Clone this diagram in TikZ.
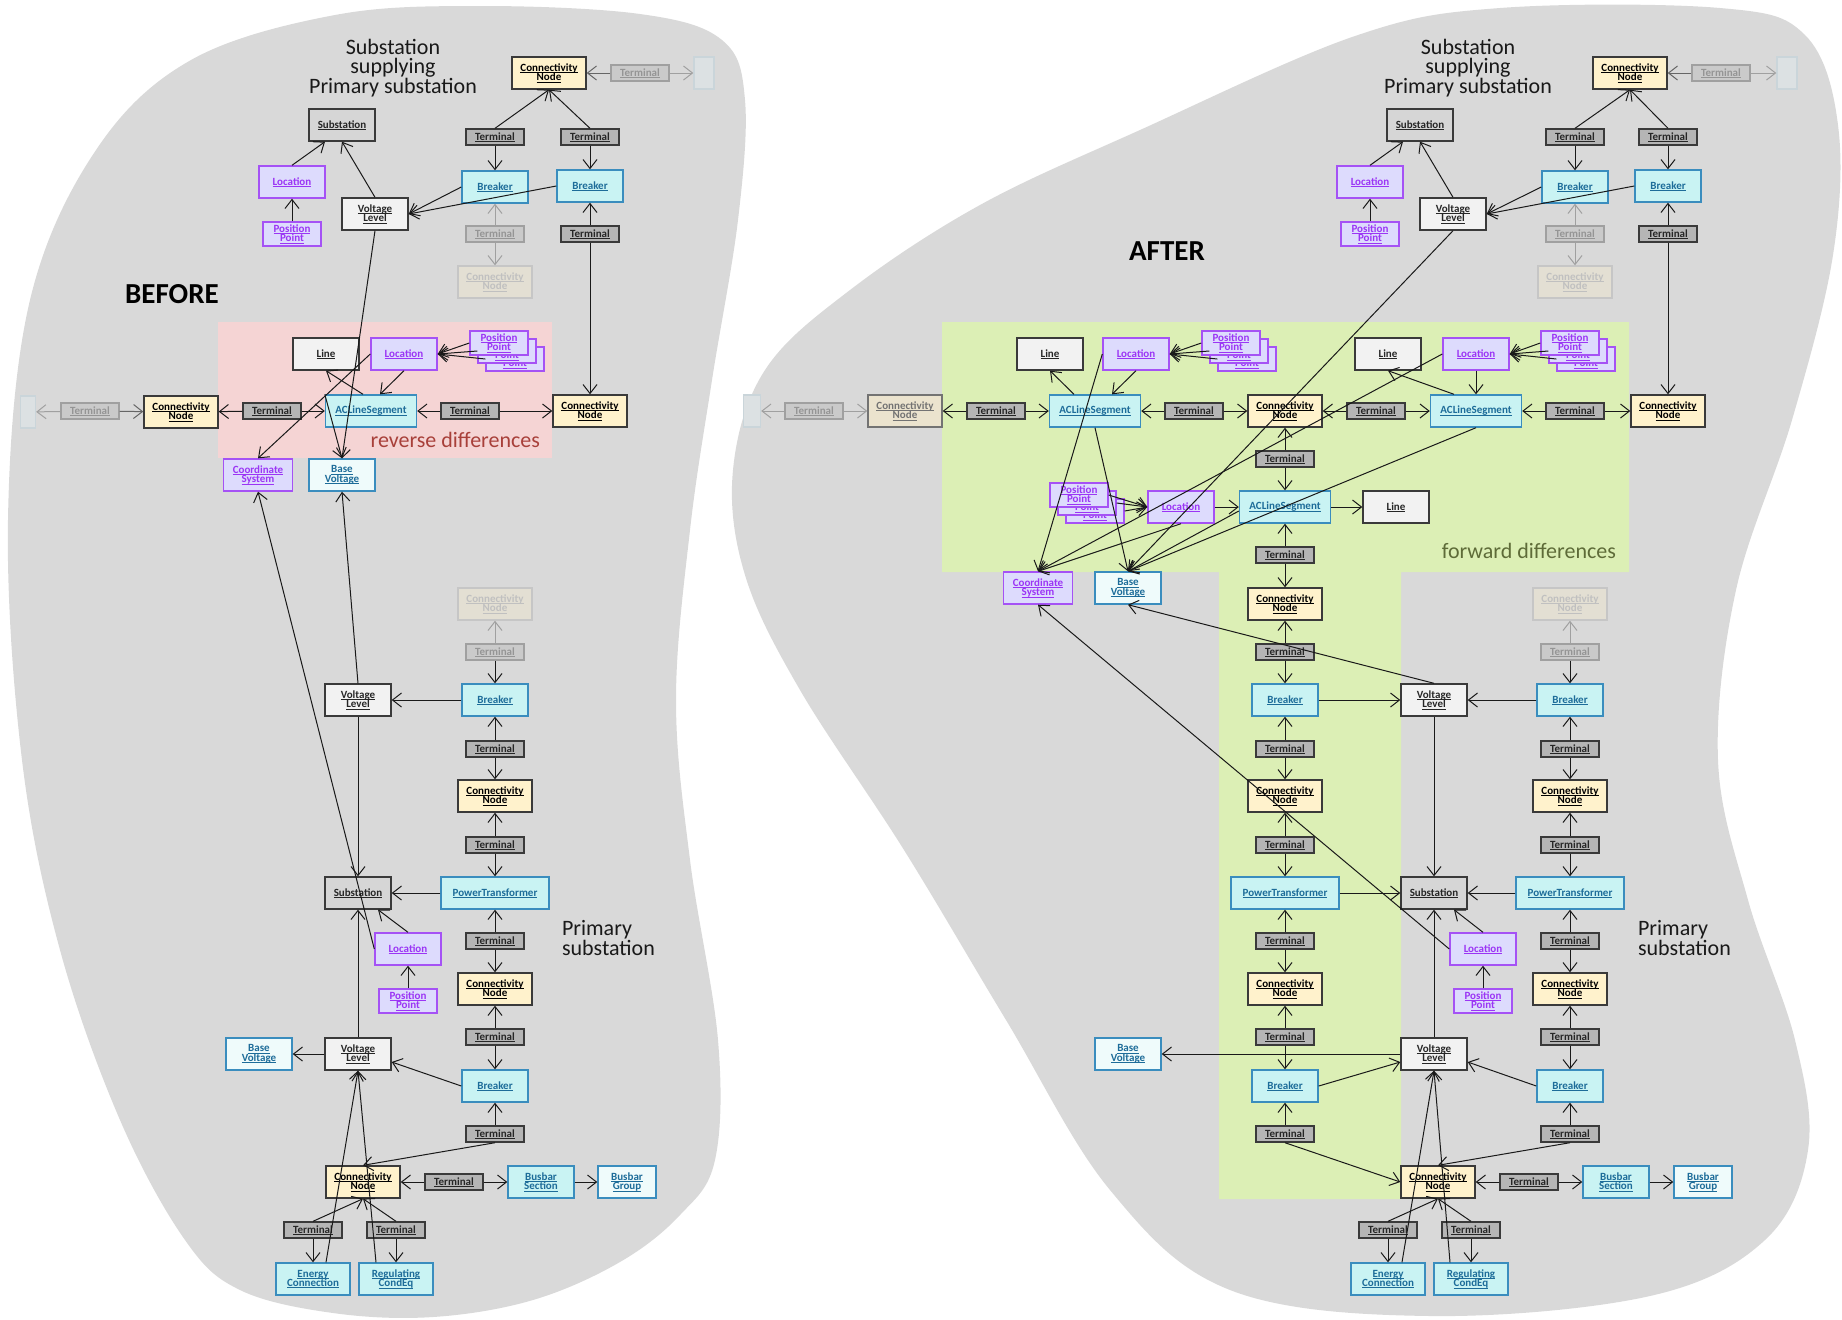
\documentclass[tikz,border=0pt]{standalone}
\usepackage{fontspec}
\setmainfont{Carlito}
\usetikzlibrary{arrows.meta}

\definecolor{blobgray}{HTML}{D9D9D9}
\definecolor{revpink}{HTML}{F5D4D4}
\definecolor{fwdgreen}{HTML}{DCEFB5}
\definecolor{revtext}{HTML}{A8403A}
\definecolor{fwdtext}{HTML}{5E6B38}
\definecolor{termfill}{HTML}{B5B5B5}
\definecolor{darkedge}{HTML}{3A3A3A}
\definecolor{darktext}{HTML}{262626}
\definecolor{cnfill}{HTML}{FFF2CC}
\definecolor{eqfill}{HTML}{C9F3F3}
\definecolor{eqedge}{HTML}{3A8DBE}
\definecolor{eqtext}{HTML}{1D6C99}
\definecolor{bvfill}{HTML}{EFFBFB}
\definecolor{geofill}{HTML}{DDDBFD}
\definecolor{geoedge}{HTML}{A552F5}
\definecolor{geotext}{HTML}{9B35F5}
\definecolor{lightfill}{HTML}{F2F2F2}
\definecolor{subfill}{HTML}{D6D6D6}
\definecolor{fadefill}{HTML}{CACACA}
\definecolor{fadeedge}{HTML}{A0A0A0}
\definecolor{fadetext}{HTML}{959595}
\definecolor{fadecn}{HTML}{E3DFD3}
\definecolor{fadecnb}{HTML}{EBE3CE}
\definecolor{ghostfill}{HTML}{DCE1E3}
\definecolor{ghostedge}{HTML}{CAD5DA}

\newcommand\boxfont{\fontsize{5.5}{4.7}\selectfont\bfseries\lineskiplimit=-20pt}
\newcommand\uln[1]{\setbox0\hbox{#1}\rlap{\rule[-0.75pt]{\wd0}{0.35pt}}\box0}
\newcommand\cnlbl{\uln{Connectivity}\\\uln{Node}}
\newcommand\tlbl{\uln{Terminal}}
\newcommand\pplbl{\uln{Position}\\\uln{Point}}
\newcommand\vllbl{\uln{Voltage}\\\uln{Level}}
\newcommand\bvlbl{\uln{Base}\\\uln{Voltage}}
\newcommand\cslbl{\uln{Coordinate}\\\uln{System}}

\begin{document}
\begin{tikzpicture}[x=0.5pt,y=-0.5pt,
    >={Straight Barb[length=4.5pt,width=7pt]},
    box/.style={rectangle, draw=darkedge, line width=0.7pt, inner sep=0pt, align=center, minimum width=33pt, minimum height=16pt, font=\boxfont, text=darktext},
    termbox/.style={box, fill=termfill, minimum width=29pt, minimum height=8pt},
    fadeterm/.style={box, fill=fadefill, draw=fadeedge, text=fadetext, minimum width=29pt, minimum height=8pt},
    cnbox/.style={box, fill=cnfill, text=black, minimum width=37pt},
    fadecnbox/.style={box, fill=fadecn, draw=fadeedge!60, text=fadetext!60, minimum width=37pt},
    eqbox/.style={box, fill=eqfill, draw=eqedge, text=eqtext},
    bvbox/.style={eqbox, fill=bvfill},
    geobox/.style={box, fill=geofill, draw=geoedge, text=geotext},
    ppbox/.style={geobox, minimum width=29pt, minimum height=12pt},
    plainbox/.style={box, fill=lightfill},
    subbox/.style={box, fill=subfill},
    ghostbox/.style={box, fill=ghostfill, draw=ghostedge, minimum width=10pt},
    arrow/.style={->, line width=0.5pt, draw=black!90},
    greyarrow/.style={->, line width=0.5pt, draw=black!60},
    fadearrow/.style={->, line width=0.5pt, draw=fadeedge},
    title/.style={font=\fontsize{11}{9.7}\selectfont, align=center, text=black!90},
    tag/.style={font=\fontsize{14.5}{15}\selectfont\bfseries}
  ]
  \useasboundingbox (0,0) rectangle (1842,1319);

  % Backgrounds
  \fill[blobgray] plot[smooth cycle, tension=0.6] coordinates {
    (8,520) (30,300) (96,150) (191,60) (335,15) (478,6) (640,14) (722,40)
    (745,100) (738,220) (712,380) (690,530) (676,700) (690,860) (718,1040)
    (715,1160) (680,1215) (620,1262) (533,1300) (433,1317) (333,1313)
    (240,1290) (185,1240) (120,1120) (60,950) (22,760)};
  \fill[blobgray] plot[smooth cycle, tension=0.6] coordinates {
    (733,470) (765,370) (850,290) (980,205) (1140,130) (1355,36) (1500,8)
    (1720,8) (1805,35) (1838,125) (1833,255) (1792,420) (1736,590)
    (1718,760) (1748,900) (1795,1040) (1808,1150) (1765,1240) (1650,1296)
    (1430,1316) (1230,1290) (1110,1190) (1006,1020) (904,850) (800,690)
    (745,575)};
  \fill[revpink] (218,322) rectangle (552,458);
  \fill[fwdgreen] (942,322) -- (1629,322) -- (1629,572) -- (1401,572) -- (1401,1199)
    -- (1219,1199) -- (1219,572) -- (942,572) -- cycle;

  % Panel texts
  \node[title] (bTitle) at (393,68) {Substation\\supplying\\Primary substation};
  \node[title] (aTitle) at (1468,68) {Substation\\supplying\\Primary substation};
  \node[tag] (before) at (172,294) {BEFORE};
  \node[tag] (after) at (1167,251) {AFTER};
  \node[title, align=left, anchor=west] (bPrim) at (555,938) {Primary\\substation};
  \node[title, align=left, anchor=west] (aPrim) at (1631,938) {Primary\\substation};
  \node[anchor=east, font=\fontsize{11}{11}\selectfont, text=revtext] (revlbl) at (547,440) {reverse differences};
  \node[anchor=east, font=\fontsize{11}{11}\selectfont, text=fwdtext] (fwdlbl) at (1623,551) {forward differences};

  % BEFORE: supplying substation
  \node[cnbox] (bCNtop) at (549,73) {\cnlbl};
  \node[fadeterm] (bTtopF) at (640,73) {\tlbl};
  \node[ghostbox] (bXtop) at (704,73) {};
  \node[subbox] (bSub) at (342,125) {\uln{Substation}};
  \node[termbox] (bT1) at (495,137) {\tlbl};
  \node[termbox] (bT2) at (590,137) {\tlbl};
  \node[eqbox] (bBr1) at (495,187) {\uln{Breaker}};
  \node[eqbox] (bBr2) at (590,186) {\uln{Breaker}};
  \node[geobox] (bLoc) at (292,182) {\uln{Location}};
  \node[ppbox] (bPP) at (292,234) {\pplbl};
  \node[plainbox] (bVL) at (375,214) {\vllbl};
  \node[fadeterm] (bT3F) at (495,234) {\tlbl};
  \node[termbox] (bT4) at (590,234) {\tlbl};
  \node[fadecnbox] (bCNF) at (495,282) {\cnlbl};

  % BEFORE: line
  \node[plainbox] (bLine) at (326,354) {\uln{Line}};
  \node[geobox] (bLoc2) at (404,354) {\uln{Location}};
  \node[ppbox] (bPP2c) at (515,359) {\pplbl};
  \node[ppbox] (bPP2b) at (507,351) {\pplbl};
  \node[ppbox] (bPP2a) at (499,343) {\pplbl};
  \node[ghostbox, minimum width=7.5pt] (bXleft) at (28,412) {};
  \node[fadeterm] (bTleftF) at (90,411) {\tlbl};
  \node[cnbox] (bCNl) at (181,412) {\cnlbl};
  \node[termbox] (bTl) at (272,411) {\tlbl};
  \node[eqbox, minimum width=45.5pt] (bACLS) at (371,411) {\uln{ACLineSegment}};
  \node[termbox] (bTr) at (470,411) {\tlbl};
  \node[cnbox] (bCNr) at (590,411) {\cnlbl};
  \node[geobox, minimum width=34.5pt] (bCS) at (258,475) {\cslbl};
  \node[bvbox] (bBV) at (342,475) {\bvlbl};

  % BEFORE: primary substation
  \node[fadecnbox] (bCNF2) at (495,604) {\cnlbl};
  \node[fadeterm] (bT5F) at (495,652) {\tlbl};
  \node[plainbox] (bVL2) at (358,700) {\vllbl};
  \node[eqbox] (bBr3) at (495,700) {\uln{Breaker}};
  \node[termbox] (bT6) at (495,749) {\tlbl};
  \node[cnbox] (bCN2) at (495,796) {\cnlbl};
  \node[termbox] (bT7) at (495,845) {\tlbl};
  \node[subbox] (bSub2) at (358,893) {\uln{Substation}};
  \node[eqbox, minimum width=54pt] (bPT) at (495,893) {\uln{PowerTransformer}};
  \node[termbox] (bT8) at (495,941) {\tlbl};
  \node[geobox] (bLoc3) at (408,949) {\uln{Location}};
  \node[ppbox] (bPP3) at (408,1001) {\pplbl};
  \node[cnbox] (bCN3) at (495,989) {\cnlbl};
  \node[termbox] (bT9) at (495,1037) {\tlbl};
  \node[bvbox] (bBV2) at (259,1054) {\bvlbl};
  \node[plainbox] (bVL3) at (358,1054) {\vllbl};
  \node[eqbox] (bBr4) at (495,1086) {\uln{Breaker}};
  \node[termbox] (bT10) at (495,1134) {\tlbl};
  \node[cnbox] (bCN4) at (363,1182) {\cnlbl};
  \node[termbox] (bT11) at (454,1182) {\tlbl};
  \node[eqbox] (bBS) at (541,1182) {\uln{Busbar}\\\uln{Section}};
  \node[bvbox, minimum width=29pt] (bBG) at (627,1182) {\uln{Busbar}\\\uln{Group}};
  \node[termbox] (bT12) at (313,1230) {\tlbl};
  \node[termbox] (bT13) at (396,1230) {\tlbl};
  \node[eqbox, minimum width=37pt] (bEC) at (313,1279) {\uln{Energy}\\\uln{Connection}};
  \node[eqbox, minimum width=37pt] (bRC) at (396,1279) {\uln{Regulating}\\\uln{CondEq}};

  % AFTER: supplying substation
  \node[cnbox] (aCNtop) at (1630,73) {\cnlbl};
  \node[fadeterm] (aTtopF) at (1721,73) {\tlbl};
  \node[ghostbox] (aXtop) at (1787,73) {};
  \node[subbox] (aSub) at (1420,125) {\uln{Substation}};
  \node[termbox] (aT1) at (1575,137) {\tlbl};
  \node[termbox] (aT2) at (1668,137) {\tlbl};
  \node[eqbox] (aBr1) at (1575,187) {\uln{Breaker}};
  \node[eqbox] (aBr2) at (1668,186) {\uln{Breaker}};
  \node[geobox] (aLoc) at (1370,182) {\uln{Location}};
  \node[ppbox] (aPP) at (1370,234) {\pplbl};
  \node[plainbox] (aVL) at (1453,214) {\vllbl};
  \node[fadeterm] (aT3F) at (1575,234) {\tlbl};
  \node[termbox] (aT4) at (1668,234) {\tlbl};
  \node[fadecnbox] (aCNF) at (1575,282) {\cnlbl};

  % AFTER: split line
  \node[ghostbox, minimum width=8.5pt] (aXleft) at (752,411) {};
  \node[fadeterm] (aTleftF) at (814,411) {\tlbl};
  \node[box, fill=fadecnb, draw=black!55, text=black!55, minimum width=37pt] (aCNleftF) at (905,411) {\cnlbl};
  \node[termbox] (aTl) at (996,411) {\tlbl};
  \node[eqbox, minimum width=45.5pt] (aACLS1) at (1095,411) {\uln{ACLineSegment}};
  \node[termbox] (aTm1) at (1194,411) {\tlbl};
  \node[cnbox] (aCNm) at (1285,411) {\cnlbl};
  \node[termbox] (aTm2) at (1376,411) {\tlbl};
  \node[eqbox, minimum width=45.5pt] (aACLS2) at (1476,411) {\uln{ACLineSegment}};
  \node[termbox] (aTr) at (1575,411) {\tlbl};
  \node[cnbox] (aCNr) at (1668,411) {\cnlbl};
  \node[plainbox] (aLine1) at (1050,354) {\uln{Line}};
  \node[geobox] (aLoc1) at (1136,354) {\uln{Location}};
  \node[ppbox] (aPP1c) at (1247,359) {\pplbl};
  \node[ppbox] (aPP1b) at (1239,351) {\pplbl};
  \node[ppbox] (aPP1a) at (1231,343) {\pplbl};
  \node[plainbox] (aLine2) at (1388,354) {\uln{Line}};
  \node[geobox] (aLoc2) at (1476,354) {\uln{Location}};
  \node[ppbox] (aPP2c) at (1586,359) {\pplbl};
  \node[ppbox] (aPP2b) at (1578,351) {\pplbl};
  \node[ppbox] (aPP2a) at (1570,343) {\pplbl};
  \node[termbox] (aTm3) at (1285,459) {\tlbl};
  \node[eqbox, minimum width=45.5pt] (aACLS3) at (1285,507) {\uln{ACLineSegment}};
  \node[plainbox] (aLine3) at (1396,507) {\uln{Line}};
  \node[geobox] (aLoc4) at (1181,507) {\uln{Location}};
  \node[ppbox] (aPP3c) at (1095,511) {\pplbl};
  \node[ppbox] (aPP3b) at (1087,503) {\pplbl};
  \node[ppbox] (aPP3a) at (1079,495) {\pplbl};
  \node[termbox] (aTm4) at (1285,555) {\tlbl};
  \node[geobox, minimum width=34.5pt] (aCS) at (1038,588) {\cslbl};
  \node[bvbox] (aBV) at (1128,588) {\bvlbl};

  % AFTER: primary substation
  \node[cnbox] (aCN1) at (1285,604) {\cnlbl};
  \node[fadecnbox] (aCNF2) at (1570,604) {\cnlbl};
  \node[termbox] (aT5) at (1285,652) {\tlbl};
  \node[fadeterm] (aT5F) at (1570,652) {\tlbl};
  \node[eqbox] (aBrL1) at (1285,700) {\uln{Breaker}};
  \node[plainbox] (aVL2) at (1434,700) {\vllbl};
  \node[eqbox] (aBrR1) at (1570,700) {\uln{Breaker}};
  \node[termbox] (aT6) at (1285,749) {\tlbl};
  \node[termbox] (aT6r) at (1570,749) {\tlbl};
  \node[cnbox] (aCN2) at (1285,796) {\cnlbl};
  \node[cnbox] (aCN2r) at (1570,796) {\cnlbl};
  \node[termbox] (aT7) at (1285,845) {\tlbl};
  \node[termbox] (aT7r) at (1570,845) {\tlbl};
  \node[eqbox, minimum width=54pt] (aPTL) at (1285,893) {\uln{PowerTransformer}};
  \node[subbox] (aSub2) at (1434,893) {\uln{Substation}};
  \node[eqbox, minimum width=54pt] (aPTR) at (1570,893) {\uln{PowerTransformer}};
  \node[termbox] (aT8) at (1285,941) {\tlbl};
  \node[termbox] (aT8r) at (1570,941) {\tlbl};
  \node[geobox] (aLoc5) at (1483,949) {\uln{Location}};
  \node[ppbox] (aPP5) at (1483,1001) {\pplbl};
  \node[cnbox] (aCN3) at (1285,989) {\cnlbl};
  \node[cnbox] (aCN3r) at (1570,989) {\cnlbl};
  \node[termbox] (aT9) at (1285,1037) {\tlbl};
  \node[termbox] (aT9r) at (1570,1037) {\tlbl};
  \node[bvbox] (aBV2) at (1128,1054) {\bvlbl};
  \node[plainbox] (aVL3) at (1434,1054) {\vllbl};
  \node[eqbox] (aBrL2) at (1285,1086) {\uln{Breaker}};
  \node[eqbox] (aBrR2) at (1570,1086) {\uln{Breaker}};
  \node[termbox] (aT10) at (1285,1134) {\tlbl};
  \node[termbox] (aT10r) at (1570,1134) {\tlbl};
  \node[cnbox] (aCN4) at (1438,1182) {\cnlbl};
  \node[termbox] (aT11) at (1529,1182) {\tlbl};
  \node[eqbox] (aBS) at (1616,1182) {\uln{Busbar}\\\uln{Section}};
  \node[bvbox, minimum width=29pt] (aBG) at (1703,1182) {\uln{Busbar}\\\uln{Group}};
  \node[termbox] (aT12) at (1388,1230) {\tlbl};
  \node[termbox] (aT13) at (1471,1230) {\tlbl};
  \node[eqbox, minimum width=37pt] (aEC) at (1388,1279) {\uln{Energy}\\\uln{Connection}};
  \node[eqbox, minimum width=37pt] (aRC) at (1471,1279) {\uln{Regulating}\\\uln{CondEq}};

  % Arrows BEFORE, top
  \draw[arrow] (bT1.north) -- (bCNtop.south);
  \draw[arrow] (bT2.north) -- (bCNtop.south);
  \draw[arrow] (bT1) -- (bBr1);
  \draw[arrow] (bT2) -- (bBr2);
  \draw[greyarrow] (bTtopF) -- (bCNtop);
  \draw[fadearrow] (bTtopF) -- (bXtop);
  \draw[arrow] (bBr1.west) -- (bVL.east);
  \draw[arrow] (bBr2.west) -- (bVL.east);
  \draw[arrow] (bVL.north) -- (bSub.south);
  \draw[arrow] (bLoc.north) -- ([xshift=-8.5pt]bSub.south);
  \draw[arrow] (bPP) -- (bLoc);
  \draw[fadearrow] (bT3F) -- (bBr1);
  \draw[fadearrow] (bT3F) -- (bCNF);
  \draw[arrow] (bT4) -- (bBr2);
  \draw[arrow] (bT4) -- (bCNr);
  \draw[arrow] (bVL.south) -- (bBV.north);

  % Arrows BEFORE, line
  \draw[fadearrow] (bTleftF) -- (bXleft);
  \draw[greyarrow] (bTleftF) -- (bCNl);
  \draw[arrow] (bTl) -- (bCNl);
  \draw[arrow] (bTl) -- (bACLS);
  \draw[arrow] (bTr) -- (bACLS);
  \draw[arrow] (bTr) -- (bCNr);
  \draw[arrow] ([xshift=-4pt]bACLS.north) -- (bLine.south);
  \draw[arrow] (bLoc2.south) -- ([xshift=4.5pt]bACLS.north);
  \draw[arrow] (bLoc2.west) -- (bCS.north);
  \draw[arrow] (bACLS.north west) -- (bBV.north);
  \draw[arrow] (bPP2a.west) -- (bLoc2.east);
  \draw[arrow] (bPP2b.west) -- (bLoc2.east);
  \draw[arrow] (bPP2c.west) -- (bLoc2.east);

  % Arrows BEFORE, primary substation
  \draw[fadearrow] (bT5F) -- (bCNF2);
  \draw[arrow] (bT5F) -- (bBr3);
  \draw[arrow] (bBr3) -- (bVL2);
  \draw[arrow] (bVL2.north) -- (bBV.south);
  \draw[arrow] (bVL2) -- (bSub2);
  \draw[arrow] (bT6) -- (bBr3);
  \draw[arrow] (bT6) -- (bCN2);
  \draw[arrow] (bT7) -- (bCN2);
  \draw[arrow] (bT7) -- (bPT);
  \draw[arrow] (bPT) -- (bSub2);
  \draw[arrow] (bT8) -- (bPT);
  \draw[arrow] (bT8) -- (bCN3);
  \draw[arrow] (bLoc3.north) -- ([xshift=10pt]bSub2.south);
  \draw[arrow] (bPP3) -- (bLoc3);
  \draw[arrow] (bLoc3.west) -- (bCS.south);
  \draw[arrow] (bT9) -- (bCN3);
  \draw[arrow] (bT9) -- (bBr4);
  \draw[arrow] (bBr4.west) -- ([yshift=-4pt]bVL3.east);
  \draw[arrow] (bVL3) -- (bBV2);
  \draw[arrow] (bVL3) -- (bSub2);
  \draw[arrow] (bT10) -- (bBr4);
  \draw[arrow] (bT10.south) -- (bCN4.north);
  \draw[arrow] (bT11) -- (bCN4);
  \draw[arrow] (bT11) -- (bBS);
  \draw[arrow] (bBS) -- (bBG);
  \draw[arrow] (bT12.north) -- (bCN4.south);
  \draw[arrow] (bT13.north) -- (bCN4.south);
  \draw[arrow] (bT12) -- (bEC);
  \draw[arrow] (bT13) -- (bRC);
  \draw[arrow] ([xshift=6.5pt]bEC.north) -- (bVL3.south);
  \draw[arrow] ([xshift=-10pt]bRC.north) -- (bVL3.south);

  % Arrows AFTER, top
  \draw[arrow] (aT1.north) -- (aCNtop.south);
  \draw[arrow] (aT2.north) -- (aCNtop.south);
  \draw[arrow] (aT1) -- (aBr1);
  \draw[arrow] (aT2) -- (aBr2);
  \draw[greyarrow] (aTtopF) -- (aCNtop);
  \draw[fadearrow] (aTtopF) -- (aXtop);
  \draw[arrow] (aBr1.west) -- (aVL.east);
  \draw[arrow] (aBr2.west) -- (aVL.east);
  \draw[arrow] (aVL.north) -- (aSub.south);
  \draw[arrow] (aLoc.north) -- ([xshift=-8.5pt]aSub.south);
  \draw[arrow] (aPP) -- (aLoc);
  \draw[fadearrow] (aT3F) -- (aBr1);
  \draw[fadearrow] (aT3F) -- (aCNF);
  \draw[arrow] (aT4) -- (aBr2);
  \draw[arrow] (aT4) -- (aCNr);
  \draw[arrow] (aVL.south) -- (aBV.north);

  % Arrows AFTER, split line
  \draw[fadearrow] (aTleftF) -- (aXleft);
  \draw[fadearrow] (aTleftF) -- (aCNleftF);
  \draw[arrow] (aTl) -- (aCNleftF);
  \draw[arrow] (aTl) -- (aACLS1);
  \draw[arrow] (aTm1) -- (aACLS1);
  \draw[arrow] (aTm1) -- (aCNm);
  \draw[arrow] (aTm2) -- (aCNm);
  \draw[arrow] (aTm2) -- (aACLS2);
  \draw[arrow] (aTr) -- (aACLS2);
  \draw[arrow] (aTr) -- (aCNr);
  \draw[arrow] ([xshift=-10.5pt]aACLS1.north) -- (aLine1.south);
  \draw[arrow] (aLoc1.south) -- ([xshift=8.5pt]aACLS1.north);
  \draw[arrow] (aLoc1.west) -- (aCS.north);
  \draw[arrow] (aACLS1.south) -- (aBV.north);
  \draw[arrow] (aPP1a.west) -- (aLoc1.east);
  \draw[arrow] (aPP1b.west) -- (aLoc1.east);
  \draw[arrow] (aPP1c.west) -- (aLoc1.east);
  \draw[arrow] ([xshift=-11pt]aACLS2.north) -- (aLine2.south);
  \draw[arrow] (aLoc2) -- (aACLS2);
  \draw[arrow] (aLoc2.west) -- (aCS.north);
  \draw[arrow] (aACLS2.south) -- (aBV.north);
  \draw[arrow] (aPP2a.west) -- (aLoc2.east);
  \draw[arrow] (aPP2b.west) -- (aLoc2.east);
  \draw[arrow] (aPP2c.west) -- (aLoc2.east);
  \draw[arrow] (aTm3) -- (aCNm);
  \draw[arrow] (aTm3) -- (aACLS3);
  \draw[arrow] (aACLS3) -- (aLine3);
  \draw[arrow] (aLoc4) -- (aACLS3);
  \draw[arrow] (aPP3a.east) -- (aLoc4.west);
  \draw[arrow] (aPP3b.east) -- (aLoc4.west);
  \draw[arrow] (aPP3c.east) -- (aLoc4.west);
  \draw[arrow] (aLoc4.south) -- (aCS.north);
  \draw[arrow] ([yshift=-2pt]aACLS3.west) -- (aBV.north);
  \draw[arrow] (aTm4) -- (aACLS3);
  \draw[arrow] (aTm4) -- (aCN1);

  % Arrows AFTER, primary substation
  \draw[arrow] (aT5) -- (aCN1);
  \draw[arrow] (aT5) -- (aBrL1);
  \draw[arrow] (aVL2.north) -- (aBV.south);
  \draw[arrow] (aBrL1) -- (aVL2);
  \draw[arrow] (aBrR1) -- (aVL2);
  \draw[fadearrow] (aT5F) -- (aCNF2);
  \draw[arrow] (aT5F) -- (aBrR1);
  \draw[arrow] (aT6) -- (aBrL1);
  \draw[arrow] (aT6) -- (aCN2);
  \draw[arrow] (aT6r) -- (aBrR1);
  \draw[arrow] (aT6r) -- (aCN2r);
  \draw[arrow] (aT7) -- (aCN2);
  \draw[arrow] (aT7) -- (aPTL);
  \draw[arrow] (aT7r) -- (aCN2r);
  \draw[arrow] (aT7r) -- (aPTR);
  \draw[arrow] (aPTL) -- (aSub2);
  \draw[arrow] (aPTR) -- (aSub2);
  \draw[arrow] (aVL2) -- (aSub2);
  \draw[arrow] (aLoc5.north) -- ([xshift=10pt]aSub2.south);
  \draw[arrow] (aLoc5.west) -- (aCS.south);
  \draw[arrow] (aPP5) -- (aLoc5);
  \draw[arrow] (aT8) -- (aPTL);
  \draw[arrow] (aT8) -- (aCN3);
  \draw[arrow] (aT8r) -- (aPTR);
  \draw[arrow] (aT8r) -- (aCN3r);
  \draw[arrow] (aT9) -- (aCN3);
  \draw[arrow] (aT9) -- (aBrL2);
  \draw[arrow] (aT9r) -- (aCN3r);
  \draw[arrow] (aT9r) -- (aBrR2);
  \draw[arrow] (aBrL2.east) -- ([yshift=-4pt]aVL3.west);
  \draw[arrow] (aBrR2.west) -- ([yshift=-4pt]aVL3.east);
  \draw[arrow] (aVL3) -- (aBV2);
  \draw[arrow] (aVL3) -- (aSub2);
  \draw[arrow] (aT10) -- (aBrL2);
  \draw[arrow] (aT10.south) -- (aCN4.west);
  \draw[arrow] (aT10r) -- (aBrR2);
  \draw[arrow] (aT10r.south) -- (aCN4.north);
  \draw[arrow] (aT11) -- (aCN4);
  \draw[arrow] (aT11) -- (aBS);
  \draw[arrow] (aBS) -- (aBG);
  \draw[arrow] (aT12.north) -- (aCN4.south);
  \draw[arrow] (aT13.north) -- (aCN4.south);
  \draw[arrow] (aT12) -- (aEC);
  \draw[arrow] (aT13) -- (aRC);
  \draw[arrow] ([xshift=7pt]aEC.north) -- (aVL3.south);
  \draw[arrow] ([xshift=-10.5pt]aRC.north) -- (aVL3.south);
\end{tikzpicture}
\end{document}
